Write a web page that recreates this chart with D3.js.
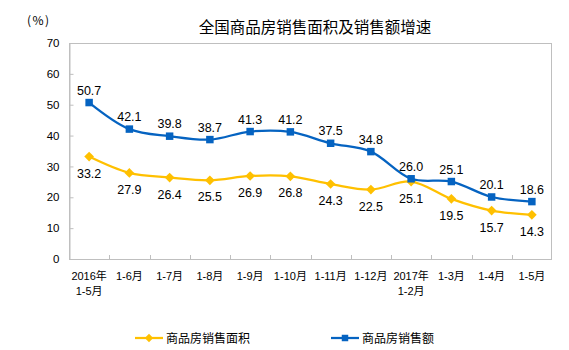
<!DOCTYPE html>
<html><head><meta charset="utf-8">
<script src="https://cdn.jsdelivr.net/npm/d3@7"></script>
<style>
html,body{margin:0;padding:0;background:#fff;}
text{font-family:"Liberation Sans",Arial,"Noto Sans CJK SC",sans-serif;fill:#000;}
</style></head>
<body><svg id="c" width="569" height="350"></svg>
<script>
const categories = [["2016年","1-5月"],["1-6月"],["1-7月"],["1-8月"],["1-9月"],["1-10月"],["1-11月"],["1-12月"],["2017年","1-2月"],["1-3月"],["1-4月"],["1-5月"]];
const areaGrowth = [33.2, 27.9, 26.4, 25.5, 26.9, 26.8, 24.3, 22.5, 25.1, 19.5, 15.7, 14.3];
const salesGrowth = [50.7, 42.1, 39.8, 38.7, 41.3, 41.2, 37.5, 34.8, 26.0, 25.1, 20.1, 18.6];
const yTicks = [0, 10, 20, 30, 40, 50, 60, 70];
const seriesNames = ["商品房销售面积", "商品房销售额"];
const title = "全国商品房销售面积及销售额增速";
const unitLabel = "(%)";

const svg = d3.select("#c");
const L = 69, R = 552, T = 43, B = 259;
const x = d3.scaleBand().domain(d3.range(categories.length)).range([L, R]);
const y = d3.scaleLinear().domain([0, 70]).range([B, T]);
const grey = "#BFBFBF";
const yellow = "#FFC000", blue = "#0563C1";

svg.append("text").attr("x", 315).attr("y", 33).attr("text-anchor", "middle")
  .style("font-family", '"Noto Sans CJK SC",sans-serif').style("font-size", "15.5px").text(title);
svg.append("text").attr("x", 27).attr("y", 25).style("font-size", "12px").style("letter-spacing", "1.5px")
  .style("font-family", '"Noto Sans CJK SC",sans-serif').text(unitLabel);

// plot border
svg.append("rect").attr("x", L + 0.5).attr("y", T + 0.5).attr("width", R - L - 1).attr("height", B - T)
  .attr("fill", "none").attr("stroke", grey).attr("stroke-width", 1);

// y axis
const yAx = svg.append("g").attr("transform", `translate(${L + 0.5},0)`)
  .call(d3.axisLeft(y).tickValues(yTicks).tickSize(-4).tickPadding(10));
yAx.select(".domain").attr("stroke", grey);
yAx.selectAll(".tick line").attr("stroke", grey);
yAx.selectAll(".tick text").style("font-size", "11.5px").style("font-family", '"Liberation Sans",Arial,sans-serif');

// x axis ticks at band boundaries
const xb = d3.scaleLinear().domain([0, categories.length]).range([L, R]);
svg.append("g").selectAll("line").data(d3.range(1, categories.length)).join("line")
  .attr("x1", d => Math.round(xb(d)) + 0.5).attr("x2", d => Math.round(xb(d)) + 0.5)
  .attr("y1", B + 0.5).attr("y2", B - 4).attr("stroke", grey);

const xl = svg.append("g");
categories.forEach((c, i) => {
  const t = xl.append("text").attr("x", x(i) + x.bandwidth() / 2).attr("y", 280)
    .attr("text-anchor", "middle").style("font-size", "11px")
    .style("font-family", '"Liberation Sans","Noto Sans CJK SC",sans-serif');
  c.forEach((line, j) => t.append("tspan").attr("x", x(i) + x.bandwidth() / 2).attr("dy", j ? 15 : 0).text(line));
});

const cx = i => x(i) + x.bandwidth() / 2;
const lineGen = d3.line().x((d, i) => cx(i)).y(d => y(d)).curve(d3.curveCatmullRom.alpha(0.5));

function drawSeries(data, color, marker, labelDy) {
  const g = svg.append("g");
  g.append("path").attr("d", lineGen(data)).attr("fill", "none").attr("stroke", color).attr("stroke-width", 2.25);
  g.selectAll("path.m").data(data).join("path").attr("class", "m")
    .attr("transform", (d, i) => `translate(${cx(i)},${y(d)})`)
    .attr("d", d3.symbol().type(marker).size(marker === d3.symbolSquare ? 56 : 60)())
    .attr("fill", color);
  g.selectAll("text").data(data).join("text")
    .attr("x", (d, i) => cx(i)).attr("y", d => y(d) + labelDy)
    .attr("text-anchor", "middle").style("font-size", "12.5px").text(d => d.toFixed(1));
}
drawSeries(areaGrowth, yellow, d3.symbolDiamond2, 21);
drawSeries(salesGrowth, blue, d3.symbolSquare, -8);

// legend
const legend = [[seriesNames[0], yellow, d3.symbolDiamond2, 135], [seriesNames[1], blue, d3.symbolSquare, 331]];
legend.forEach(([name, color, sym, lx]) => {
  const g = svg.append("g").attr("transform", `translate(${lx},338)`);
  g.append("line").attr("x1", 0).attr("x2", 28).attr("stroke", color).attr("stroke-width", 2.25);
  g.append("path").attr("transform", "translate(14,0)").attr("d", d3.symbol().type(sym).size(sym === d3.symbolSquare ? 42 : 45)()).attr("fill", color);
  g.append("text").attr("x", 31).attr("y", 4.5).style("font-size", "12px")
    .style("font-family", '"Noto Sans CJK SC",sans-serif').text(name);
});
</script></body></html>
